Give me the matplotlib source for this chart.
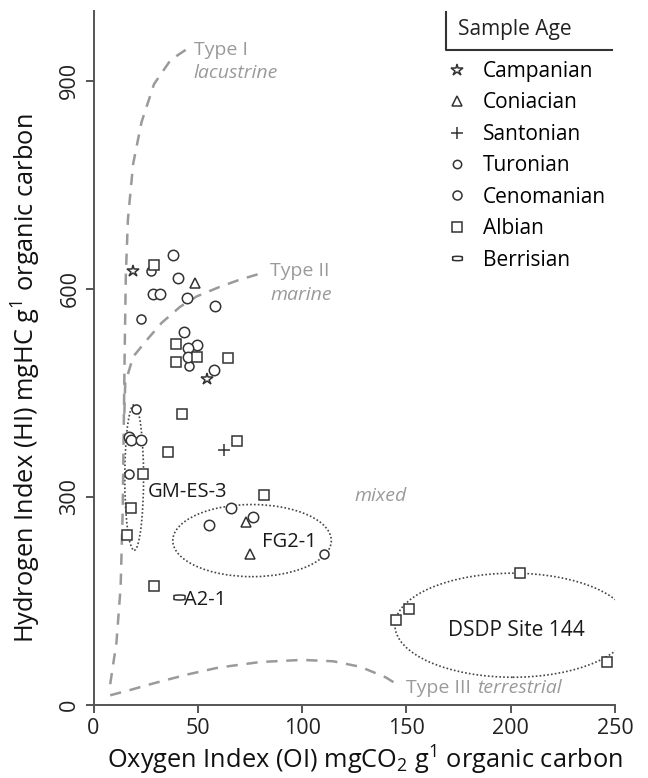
import numpy as np
import matplotlib
matplotlib.use('Agg')
import matplotlib.pyplot as plt
from matplotlib.lines import Line2D
from matplotlib.patches import Ellipse

plt.rcParams['font.family'] = ['Open Sans', 'DejaVu Sans']
plt.rcParams['mathtext.fontset'] = 'custom'
plt.rcParams['mathtext.rm'] = 'Open Sans'

# Sample data (OI, HI) by age
campanian_oi = [18.8, 54.3]
campanian_hi = [625, 470]
coniacian_oi = [48.5, 73.0, 75.2]
coniacian_hi = [609, 264, 218]
santonian_oi = [62.6]
santonian_hi = [367]
turonian_oi = [27.7, 22.6, 20.2, 17.0, 110.7, 46.0]
turonian_hi = [625, 557, 427, 333, 218, 488]
cenomanian_oi = [38.0, 40.4, 28.4, 31.9, 44.7, 58.3, 43.4, 49.6, 45.5, 45.5,
                 57.6, 16.9, 17.8, 22.8, 65.8, 76.5, 55.5]
cenomanian_hi = [648, 616, 593, 592, 587, 575, 538, 519, 514, 501,
                 483, 387, 382, 382, 284, 271, 259]
albian_oi = [29.0, 39.6, 39.6, 49.8, 64.5, 42.6, 68.8, 35.9, 23.6, 81.9,
             18.0, 15.9, 29.0, 145.1, 151.3, 204.6, 246.3]
albian_hi = [634, 520, 495, 501, 500, 420, 381, 364, 333, 303,
             284, 245, 171, 122, 138, 190, 62]
berrisian_oi = [40.8]
berrisian_hi = [156]

# Kerogen type boundary curves
type1_oi = [8, 11, 13, 14, 14.5, 15, 15.5, 16.5, 19, 23, 29, 37, 45]
type1_hi = [30, 90, 170, 280, 400, 520, 620, 700, 780, 840, 895, 930, 946]
type2_oi = [14.8, 15.2, 19, 25.5, 32.7, 41.5, 49.5, 60.7, 70, 80]
type2_hi = [420, 464, 502, 526, 551, 574, 589, 603, 613, 622]
type3_oi = [8, 18, 28.5, 45, 60, 80, 100, 115, 128, 140, 147]
type3_hi = [14, 22, 31, 44, 54, 62, 65, 63, 55, 40, 27]

# pill-shaped marker for Berrisian
t = np.linspace(0, 2 * np.pi, 40)
pill = np.column_stack([np.clip(1.6 * np.cos(t), -1, 1), 0.45 * np.sin(t)])

fig = plt.figure(figsize=(6.48, 7.78), dpi=100)
ax = fig.add_axes([93.5 / 648, 73 / 778, 521.5 / 648, 693.7 / 778])

grey = '#9a9a9a'
dash = (0, (4.5, 3.5))
ax.plot(type1_oi, type1_hi, color=grey, lw=1.8, ls=dash)
ax.plot(type2_oi, type2_hi, color=grey, lw=1.8, ls=dash)
ax.plot(type3_oi, type3_hi, color=grey, lw=1.8, ls=dash)

# sample groupings
dot = (0, (1, 1.3))
for (cx, cy, w, h) in [(19.5, 328, 9, 210), (76, 237, 76, 104), (201, 115, 113, 150)]:
    ax.add_patch(Ellipse((cx, cy), w, h, fill=False, ec='#444444', lw=1.2, ls=dot))

mk = dict(ls='none', mfc='white', mec='#333333', mew=1.1)
ax.plot(campanian_oi, campanian_hi, marker='*', ms=9, **mk)
ax.plot(coniacian_oi, coniacian_hi, marker='^', ms=7.5, **mk)
ax.plot(santonian_oi, santonian_hi, marker='+', ms=8, **mk)
ax.plot(turonian_oi, turonian_hi, marker='o', ms=6.5, **mk)
ax.plot(cenomanian_oi, cenomanian_hi, marker='o', ms=7.5, **mk)
ax.plot(albian_oi, albian_hi, marker='s', ms=7.5, **mk)
ax.plot(berrisian_oi, berrisian_hi, marker=pill, ms=8, **mk)

# annotations
tc = '#1a1a1a'
ax.text(26, 307, 'GM-ES-3', fontsize=14.5, color=tc, va='center')
ax.text(81, 235, 'FG2-1', fontsize=14.5, color=tc, va='center')
ax.text(43.5, 151, 'A2-1', fontsize=14.5, color=tc, va='center')
ax.text(202.5, 108, 'DSDP Site 144', fontsize=15, color=tc, va='center', ha='center')
ax.text(137.5, 302, 'mixed', fontsize=14, color=grey, style='italic', va='center', ha='center')
ax.text(48, 944, 'Type I', fontsize=14, color=grey, va='center')
ax.text(48, 911, 'lacustrine', fontsize=14, color=grey, style='italic', va='center')
ax.text(84.7, 625, 'Type II', fontsize=14, color=grey, va='center')
ax.text(84.7, 591, 'marine', fontsize=14, color=grey, style='italic', va='center')
t3 = ax.text(150, 24, 'Type III', fontsize=14, color=grey, va='center')
ax.annotate('terrestrial', xy=(1, 0.5), xycoords=t3, xytext=(4, 0), textcoords='offset points',
            fontsize=14, color=grey, style='italic', va='center')

ax.set_xlim(0, 250)
ax.set_ylim(0, 1000)
ax.set_xticks([0, 50, 100, 150, 200, 250])
ax.set_yticks([0, 300, 600, 900])
for s in ['top', 'right']:
    ax.spines[s].set_visible(False)
for s in ['left', 'bottom']:
    ax.spines[s].set_color('#555555')
    ax.spines[s].set_linewidth(1.4)
ax.tick_params(colors='#555555', width=1.4, length=6, labelsize=15.5, labelcolor='#222222')
plt.setp(ax.get_yticklabels(), rotation=90, va='center')

ax.set_xlabel('Oxygen Index (OI) mgCO$_2$ g$^1$ organic carbon', fontsize=18.3, color='#111111')
ax.set_ylabel('Hydrogen Index (HI) mgHC g$^1$ organic carbon', fontsize=18.3, color='#111111')
ax.xaxis.set_label_coords(0.52, -0.056)
ax.yaxis.set_label_coords(-0.097, 0.471)

# legend
handles = [
    Line2D([], [], marker='*', ms=9, **mk),
    Line2D([], [], marker='^', ms=7, **mk),
    Line2D([], [], marker='+', ms=8, **mk),
    Line2D([], [], marker='o', ms=6, **mk),
    Line2D([], [], marker='o', ms=6.5, **mk),
    Line2D([], [], marker='s', ms=6.5, **mk),
    Line2D([], [], marker=pill, ms=7, **mk),
]
labels = ['Campanian', 'Coniacian', 'Santonian', 'Turonian', 'Cenomanian', 'Albian', 'Berrisian']
fig.legend(handles, labels, loc='upper left', bbox_to_anchor=(448.7 / 648, 1 - 61 / 778),
           frameon=False, fontsize=15, handlelength=0.8, handletextpad=0.85,
           labelspacing=0.5, borderpad=0, borderaxespad=0)
fig.text(458 / 648, 1 - 30 / 778, 'Sample Age', fontsize=15, color='#222222', va='center')
fig.add_artist(Line2D([446 / 648, 446 / 648, 612 / 648], [1 - 12 / 778, 1 - 50 / 778, 1 - 50 / 778],
                      color='#333333', lw=1.5))

fig.savefig('out.png', dpi=100)
